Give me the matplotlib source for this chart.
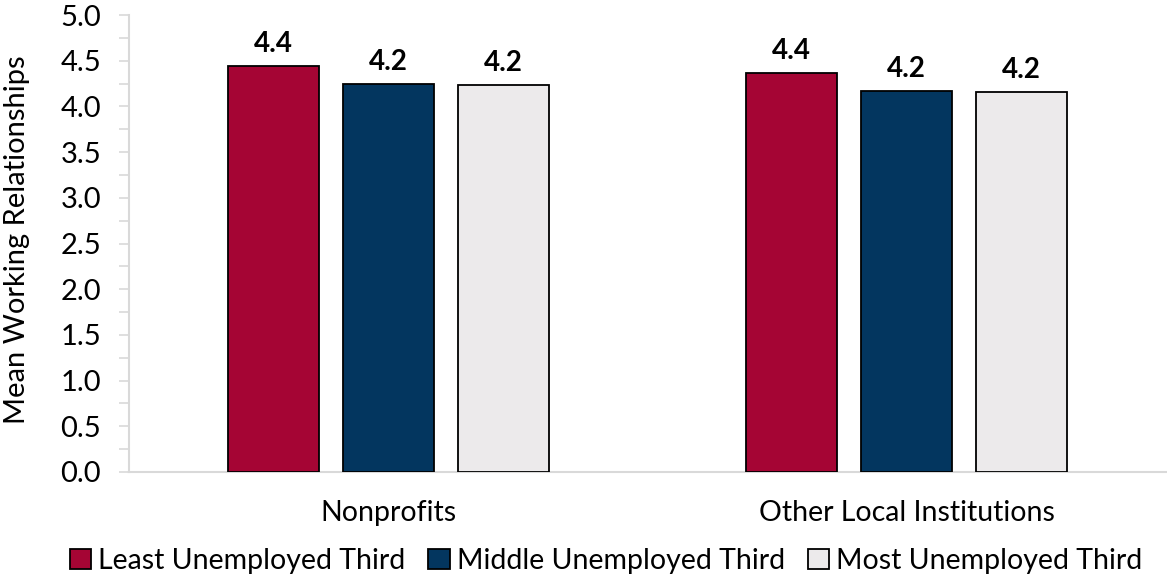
import matplotlib
matplotlib.use("Agg")
import matplotlib.pyplot as plt
from matplotlib.patches import Patch
from matplotlib.ticker import MultipleLocator, FormatStrFormatter
import numpy as np

categories = ["Nonprofits", "Other Local Institutions"]
series_names = ["Least Unemployed Third", "Middle Unemployed Third", "Most Unemployed Third"]
least = [4.44, 4.36]
middle = [4.24, 4.17]
most = [4.23, 4.16]
colors = ["#A50534", "#03365F", "#ECEAEB"]

plt.rcParams["font.family"] = ["Lato", "DejaVu Sans"]

fig = plt.figure(figsize=(11.67, 5.84), dpi=100)
ax = fig.add_axes([129 / 1167, 112 / 584, 1037 / 1167, 457 / 584])

x = np.arange(len(categories))
width = 0.175
step = 0.2216
for i, (vals, col) in enumerate(zip([least, middle, most], colors)):
    pos = x + (i - 1) * step
    bars = ax.bar(pos, vals, width, color=col, edgecolor="black", linewidth=1.3, zorder=3)
    for b, v in zip(bars, vals):
        ax.annotate(f"{v:.1f}", (b.get_x() + b.get_width() / 2, v),
                    xytext=(0, 16), textcoords="offset points",
                    ha="center", va="center", fontsize=20, fontweight="bold")

ax.set_xlim(-0.5, 1.5)
ax.set_ylim(0, 5.0)
ax.yaxis.set_major_locator(MultipleLocator(0.5))
ax.yaxis.set_minor_locator(MultipleLocator(0.25))
ax.yaxis.set_major_formatter(FormatStrFormatter("%.1f"))
ax.set_xticks(x)
ax.set_xticklabels(categories, fontsize=20.5)
ax.tick_params(axis="x", length=0, pad=20)
ax.tick_params(axis="y", which="both", length=7, width=1.2, color="#D9D9D9", labelsize=21, pad=13)
for s in ["top", "right"]:
    ax.spines[s].set_visible(False)
for s in ["left", "bottom"]:
    ax.spines[s].set_color("#D9D9D9")
    ax.spines[s].set_linewidth(1.5)

fig.text(17 / 1167, 1 - 240 / 584, "Mean Working Relationships", rotation=90,
         ha="center", va="center", fontsize=21)

handles = [Patch(facecolor=c, edgecolor="black", linewidth=1.3) for c in colors]
fig.legend(handles, series_names, loc="center", bbox_to_anchor=(606 / 1167, 1 - 561 / 584),
           ncol=3, frameon=False, fontsize=20.5, handlelength=0.75, handleheight=0.75,
           handletextpad=0.25, columnspacing=0.8)

fig.savefig("out.png", dpi=100)
